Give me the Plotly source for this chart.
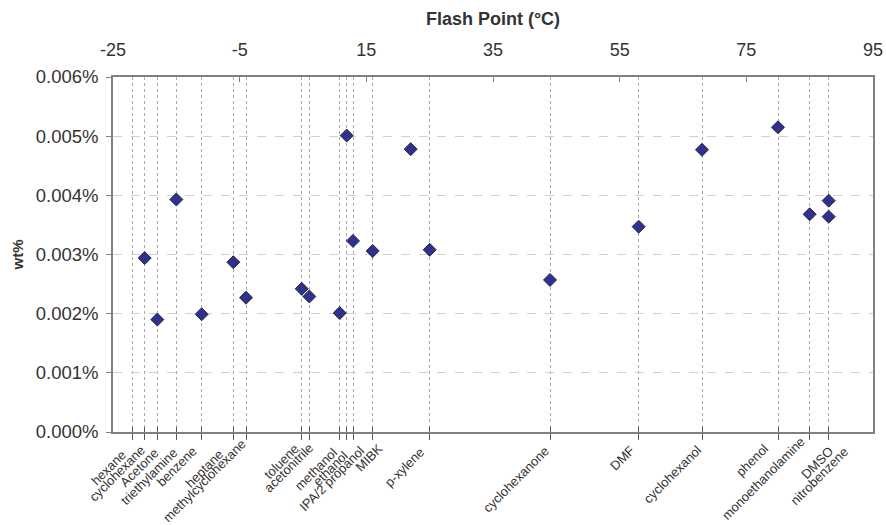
import plotly.graph_objects as go

# ---- data ----
SOLVENTS = ["hexane", "cyclohexane", "Acetone", "triethylamine", "benzene",
            "heptane", "methylcyclohexane", "toluene", "acetonitrile",
            "methanol", "ethanol", "IPA/2 propanol", "MIBK", "", "p-xylene",
            "cyclohexanone", "DMF", "cyclohexanol", "phenol",
            "monoethanolamine", "DMSO", "nitrobenzene"]
FLASH_POINT_C = [-22, -20, -18, -15, -11, -6, -4, 4.8, 6, 10.8, 11.9, 12.9,
                 16, 22, 25, 44, 58, 68, 80, 85, 88, 88]
WT_PCT = [None, 0.00294, 0.00190, 0.00393, 0.00199, 0.00287, 0.00227,
          0.00242, 0.00229, 0.00201, 0.00501, 0.00323, 0.00306, 0.00478,
          0.00308, 0.00257, 0.00347, 0.00477, 0.00515, 0.00368, 0.00391,
          0.00364]
Y_TICKS = [0, 0.001, 0.002, 0.003, 0.004, 0.005, 0.006]
Y_TICK_LABELS = ["0.000%", "0.001%", "0.002%", "0.003%", "0.004%",
                 "0.005%", "0.006%"]
TOP_TICKS = [-25, -5, 15, 35, 55, 75, 95]
TOP_TICK_LABELS = ["-25", "-5", "15", "35", "55", "75", "95"]

# label placement tweaks (pixels), layout only
LABEL_DX = [0, 6, 7, 7, 1, -4, 6, 3, 10, 3, 7, 17, 16, 0, 0,
            5, 1, 5, -4, 1, 11, 25]
LABEL_DY = [12, 8, 10, 10, 9, 12, 1, 6, 5, 10, 13, 8, 6, 0, 10,
            9, 8, 8, 7, -1, 9, 10]

FONT = "Liberation Sans, Arial, sans-serif"
TXT = "#333333"
LINE = "#808080"

named_x = [f for f, s in zip(FLASH_POINT_C, SOLVENTS) if s]

fig = go.Figure()
fig.add_trace(go.Scatter(
    x=FLASH_POINT_C, y=WT_PCT, mode="markers",
    marker=dict(symbol="diamond", size=10, color="#2E3192",
                line=dict(color="#2a2a2a", width=1)),
    showlegend=False, hoverinfo="skip"))
# invisible helpers so that the overlay axes are drawn
fig.add_trace(go.Scatter(x=[None], y=[None], xaxis="x2", yaxis="y",
                         showlegend=False, hoverinfo="skip"))
fig.add_trace(go.Scatter(x=[None], y=[None], xaxis="x3", yaxis="y",
                         showlegend=False, hoverinfo="skip"))

for s, f, dx, dy in zip(SOLVENTS, FLASH_POINT_C, LABEL_DX, LABEL_DY):
    if not s:
        continue
    fig.add_annotation(
        x=f, xref="x", y=0, yref="paper", text=s, showarrow=False,
        textangle=-45, xanchor="right", yanchor="top",
        xshift=dx, yshift=-dy,
        font=dict(family=FONT, size=13, color=TXT))

fig.update_layout(
    width=886, height=525,
    margin=dict(l=113, r=13, t=77, b=93, autoexpand=False),
    paper_bgcolor="white", plot_bgcolor="white",
    font=dict(family=FONT, color=TXT),
    xaxis=dict(
        range=[-25, 95], tickmode="array", tickvals=named_x,
        showticklabels=False, ticks="outside", ticklen=6, tickwidth=1.2,
        tickcolor="#555555", automargin=False,
        showgrid=True, gridcolor="#a8a8a8", griddash="dot", gridwidth=1,
        showline=True, linecolor=LINE, linewidth=1.5, zeroline=False),
    xaxis3=dict(
        overlaying="x", matches="x", side="bottom", range=[-25, 95],
        tickmode="array", tickvals=named_x, showticklabels=False,
        ticks="inside", ticklen=5, tickwidth=1.2, tickcolor="#555555",
        automargin=False,
        showgrid=False, showline=False, zeroline=False),
    xaxis2=dict(
        overlaying="x", side="top", range=[-25, 95], tickmode="array",
        tickvals=TOP_TICKS, ticktext=TOP_TICK_LABELS, ticks="inside",
        ticklen=5, tickcolor=LINE, automargin=False, ticklabelstandoff=12,
        showgrid=False, showline=True, linecolor=LINE, linewidth=1.5,
        zeroline=False, tickfont=dict(size=18, color=TXT),
        title=dict(text="<b>Flash Point (°C)</b>",
                   font=dict(size=18, color=TXT), standoff=10)),
    yaxis=dict(
        range=[0, 0.006], tickmode="array", tickvals=Y_TICKS,
        ticktext=Y_TICK_LABELS, ticks="outside", ticklen=5,
        tickcolor=LINE, automargin=False, ticklabelstandoff=4,
        showgrid=True, gridcolor="#d0d0d0", griddash="dash",
        showline=True, linecolor=LINE, linewidth=1.5, mirror=True,
        zeroline=False, tickfont=dict(size=18.5, color=TXT),
        title=dict(text="<b>wt%</b>", font=dict(size=15, color=TXT),
                   standoff=9)),
)

fig.write_html("out.html")
